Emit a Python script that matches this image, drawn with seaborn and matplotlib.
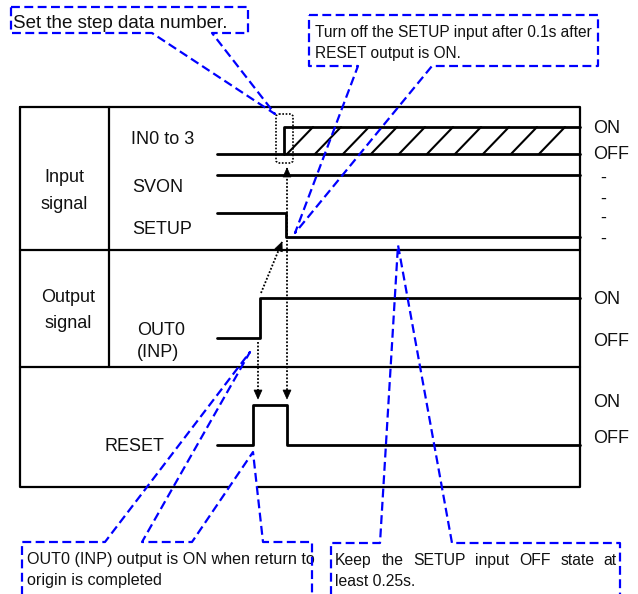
import numpy as np
import pandas as pd
import matplotlib
matplotlib.use("Agg")
import matplotlib.pyplot as plt
import seaborn as sns
from matplotlib.patches import Polygon, FancyBboxPatch

# signal edges: x position along the time axis, state 1 = ON, 0 = OFF
svon_time = [217, 580]
svon_state = [0, 0]
setup_time = [217, 286, 580]
setup_state = [1, 0, 0]
out0_time = [217, 260, 580]
out0_state = [0, 1, 1]
reset_time = [217, 253, 287, 580]
reset_state = [0, 1, 0, 0]
in0_low_time = [217, 580]
in0_low_state = [0, 0]
in0_high_time = [284, 284, 580]
in0_high_state = [0, 1, 1]
# start of each hatch stroke in the "undefined" IN0 area
hatch_time = [287, 315, 343, 371, 399, 427, 455, 483, 511, 539]

row_labels = ["IN0 to 3", "SVON", "SETUP", "OUT0", "(INP)", "RESET"]
state_labels = ["ON", "OFF", "-", "-", "-", "-", "ON", "OFF", "ON", "OFF"]

# OFF / ON y of each row
rows = {
    "IN0": (154, 127),
    "SVON": (175, 175),
    "SETUP": (237, 213),
    "OUT0": (338, 298),
    "RESET": (445, 405),
}

BLUE = "#0000ff"
TXT = "#111111"

sns.set_theme(style="white")
plt.rcParams["font.family"] = ["Liberation Sans", "DejaVu Sans"]

fig = plt.figure(figsize=(6.38, 5.94), dpi=100)
ax = fig.add_axes([0, 0, 1, 1])


def wave(row, t, s, steps=True):
    off, on = rows[row]
    df = pd.DataFrame({"t": t, "y": [off - v * (off - on) for v in s]})
    kw = dict(drawstyle="steps-post") if steps else {}
    sns.lineplot(data=df, x="t", y="y", ax=ax, color="black", lw=2.0,
                 estimator=None, sort=False, legend=False, zorder=3, **kw)


wave("SVON", svon_time, svon_state)
wave("SETUP", setup_time, setup_state)
wave("OUT0", out0_time, out0_state)
wave("RESET", reset_time, reset_state)
wave("IN0", in0_low_time, in0_low_state)
wave("IN0", in0_high_time, in0_high_state, steps=False)

off, on = rows["IN0"]
for h in hatch_time:
    ax.plot([h, h + 26], [off, on], color="black", lw=1.5, zorder=3)

# table frame
lw_t = 1.6
ax.plot([20, 580, 580, 20, 20], [107, 107, 487, 487, 107], color="black", lw=lw_t, zorder=2)
ax.plot([20, 580], [250, 250], color="black", lw=lw_t, zorder=2)
ax.plot([20, 580], [367, 367], color="black", lw=lw_t, zorder=2)
ax.plot([109, 109], [107, 367], color="black", lw=lw_t, zorder=2)

# dotted box around IN0 change
ax.add_patch(FancyBboxPatch((276, 114), 17, 49, boxstyle="round,pad=0,rounding_size=3",
                            fill=False, ec="black", lw=1.2, ls=(0, (1, 1)), zorder=4))


def dotted_arrow(p0, p1, heads=(False, True)):
    ax.plot([p0[0], p1[0]], [p0[1], p1[1]], color="black", lw=1.3,
            ls=(0, (1, 1)), zorder=4)
    for use, tip, base in ((heads[1], p1, p0), (heads[0], p0, p1)):
        if not use:
            continue
        d = np.array(tip, float) - np.array(base, float)
        d /= np.hypot(*d)
        n = np.array([-d[1], d[0]])
        b = np.array(tip) - d * 9
        ax.add_patch(Polygon([tip, b + n * 4, b - n * 4], closed=True,
                             fc="black", ec="black", lw=0.5, zorder=5))


dotted_arrow((287, 168), (287, 399), heads=(True, True))
dotted_arrow((258, 342), (258, 399))
dotted_arrow((261, 293), (282, 242))

# callouts
dash = (0, (4, 2))
ax.add_patch(Polygon([(192, 542), (253, 452), (263, 542)], closed=True,
                     fc="white", ec="none", zorder=3))
callouts = [
    [(11, 7), (248, 7), (248, 33), (212, 33), (275, 114), (152, 33), (11, 33), (11, 7)],
    [(309, 15), (598, 15), (598, 66), (432, 66), (295, 233), (358, 66), (309, 66), (309, 15)],
    [(22, 600), (22, 542), (105, 542), (250, 352), (142, 542), (192, 542),
     (253, 452), (263, 542), (312, 542), (312, 600)],
    [(331, 600), (331, 543), (380, 543), (398, 245), (452, 543), (620, 543), (620, 600)],
]
for pts in callouts:
    xs, ys = zip(*pts)
    ax.plot(xs, ys, color=BLUE, lw=1.6, ls=dash, zorder=6)

# table labels
fs = 13
lab_pos = [(131, 144), (132, 192), (132, 234), (137, 335), (137, 357), (105, 451)]
for s, (x, y) in zip(row_labels, lab_pos):
    ax.text(x, y, s, fontsize=fs, color=TXT, ha="left", va="baseline", zorder=7)
ax.text(64, 182, "Input", fontsize=fs, color=TXT, ha="center", va="baseline")
ax.text(64, 209, "signal", fontsize=fs, color=TXT, ha="center", va="baseline")
ax.text(68, 302, "Output", fontsize=fs, color=TXT, ha="center", va="baseline")
ax.text(68, 328, "signal", fontsize=fs, color=TXT, ha="center", va="baseline")

state_pos = [133, 159, 183, 204, 223, 244, 304, 346, 407, 443]
for s, y in zip(state_labels, state_pos):
    x = 603 if s == "-" else 593
    ax.text(x, y, s, fontsize=fs, color=TXT, ha="center" if s == "-" else "left",
            va="baseline")

# callout texts
ax.text(13, 28, "Set the step data number.", fontsize=13.5, color=TXT, va="baseline")
ax.text(315, 37, "Turn off the SETUP input after 0.1s after", fontsize=11.2, color=TXT, va="baseline")
ax.text(315, 58, "RESET output is ON.", fontsize=11.2, color=TXT, va="baseline")
ax.text(27, 564, "OUT0 (INP) output is ON when return to", fontsize=11.6, color=TXT, va="baseline")
ax.text(27, 585, "origin is completed", fontsize=11.6, color=TXT, va="baseline")

ax.set_xlim(0, 638)
ax.set_ylim(594, 0)
ax.axis("off")

# justified first line of the last note
renderer = fig.canvas.get_renderer()
words = "Keep the SETUP input OFF state at".split()
objs = [ax.text(335, 565, w, fontsize=11.3, color=TXT, va="baseline") for w in words]
widths = [o.get_window_extent(renderer=renderer).width for o in objs]
gap = (617 - 335 - sum(widths)) / (len(words) - 1)
x = 335
for o, w in zip(objs, widths):
    o.set_x(x)
    x += w + gap
ax.text(335, 586, "least 0.25s.", fontsize=11.3, color=TXT, va="baseline")

fig.savefig("out.png", dpi=100)
